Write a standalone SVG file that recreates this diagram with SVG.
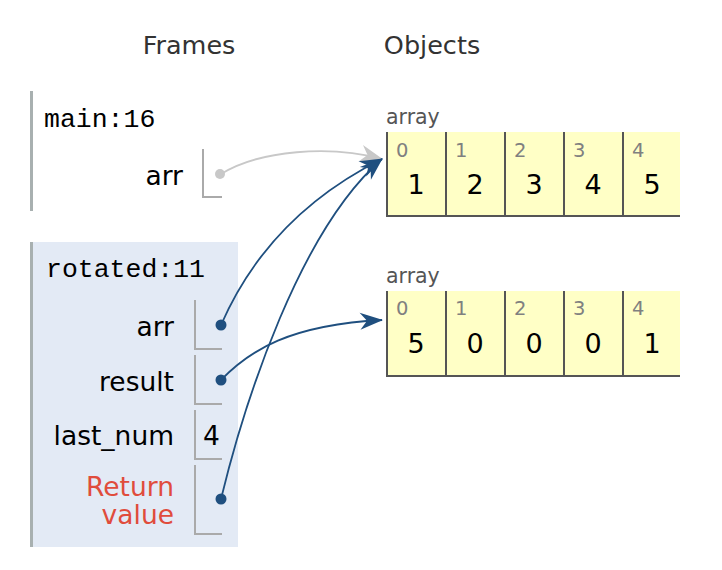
<svg xmlns="http://www.w3.org/2000/svg" width="722" height="570" viewBox="0 0 722 570">
<style>
.hdr{font-family:"DejaVu Sans",Verdana,sans-serif;font-size:25.5px;fill:#333;text-anchor:middle}
.fname{font-family:"Liberation Mono","DejaVu Sans Mono",monospace;font-size:26.5px;fill:#000}
.var{font-family:"DejaVu Sans",Verdana,sans-serif;font-size:26.5px;fill:#000;text-anchor:end}
.ret{fill:#e04c3c}
.val{font-family:"DejaVu Sans",Verdana,sans-serif;font-size:26.5px;fill:#000}
.fborder{stroke:#a8b0b0;stroke-width:3}
.box{fill:none;stroke:#aaa;stroke-width:2}
.albl{font-family:"DejaVu Sans",Verdana,sans-serif;font-size:20.5px;fill:#555}
.cell{fill:#ffffc6}
.cline{stroke:#555;stroke-width:2;fill:none}
.idx{font-family:"DejaVu Sans",Verdana,sans-serif;font-size:19.5px;fill:#808080}
.cv{font-family:"DejaVu Sans",Verdana,sans-serif;font-size:27px;fill:#000;text-anchor:middle}
.blue{stroke:#1f4f7f;stroke-width:1.8;fill:none}
.gray{stroke:#c8c8c8;stroke-width:1.8;fill:none}
</style>
<defs>
<marker id="ab" markerUnits="userSpaceOnUse" markerWidth="30" markerHeight="30" refX="0" refY="0" viewBox="-25 -15 30 30" orient="auto"><path d="M1,0 L-22,-8.5 L-15,0 L-22,8.5 Z" fill="#1f4f7f"/></marker>
<marker id="ag" markerUnits="userSpaceOnUse" markerWidth="30" markerHeight="30" refX="0" refY="0" viewBox="-25 -15 30 30" orient="auto"><path d="M1,0 L-22,-8.5 L-15,0 L-22,8.5 Z" fill="#c8c8c8"/></marker>
</defs>
<rect width="722" height="570" fill="#fff"/>
<text class="hdr" x="189" y="54">Frames</text>
<text class="hdr" x="432" y="54">Objects</text>

<g id="frame-main">
<line class="fborder" x1="31.5" y1="91" x2="31.5" y2="211"/>
<text class="fname" x="44" y="127">main:16</text>
<text class="var" x="183" y="185">arr</text>
<polyline class="box" points="203,149 203,197 222,197"/>
<circle cx="220" cy="174" r="5" fill="#c8c8c8"/>
</g>

<g id="frame-rotated">
<rect x="31" y="242" width="207" height="305" fill="#e3eaf5"/>
<line class="fborder" x1="31.5" y1="242" x2="31.5" y2="547"/>
<text class="fname" x="46" y="277">rotated:11</text>
<text class="var" x="174" y="336">arr</text>
<polyline class="box" points="195,300 195,349 222,349"/>
<circle cx="221" cy="325" r="5.5" fill="#1f4f7f"/>
<text class="var" x="174" y="391">result</text>
<polyline class="box" points="195,355 195,404 222,404"/>
<circle cx="221" cy="380" r="5.5" fill="#1f4f7f"/>
<text class="var" x="174" y="445">last_num</text>
<polyline class="box" points="195,410 195,459 222,459"/>
<text class="val" x="203" y="445">4</text>
<text class="var ret" x="174" y="496">Return</text>
<text class="var ret" x="174" y="524">value</text>
<polyline class="box" points="195,465 195,534 222,534"/>
<circle cx="221" cy="499" r="5.5" fill="#1f4f7f"/>
</g>

<g id="array1">
<text class="albl" x="386" y="124">array</text>
<rect class="cell" x="386" y="132" width="294" height="84"/>
<path class="cline" d="M387,132 V217 M446,132 V217 M505,132 V217 M564,132 V217 M623,132 V217 M386,216 H680"/>
<text class="idx" x="396" y="157">0</text>
<text class="idx" x="455" y="157">1</text>
<text class="idx" x="514" y="157">2</text>
<text class="idx" x="573" y="157">3</text>
<text class="idx" x="632" y="157">4</text>
<text class="cv" x="416" y="194">1</text>
<text class="cv" x="475" y="194">2</text>
<text class="cv" x="534" y="194">3</text>
<text class="cv" x="593" y="194">4</text>
<text class="cv" x="652" y="194">5</text>
</g>

<g id="array2">
<text class="albl" x="386" y="283">array</text>
<rect class="cell" x="386" y="291" width="294" height="85"/>
<path class="cline" d="M387,291 V377 M446,291 V377 M505,291 V377 M564,291 V377 M623,291 V377 M386,376 H680"/>
<text class="idx" x="396" y="315">0</text>
<text class="idx" x="455" y="315">1</text>
<text class="idx" x="514" y="315">2</text>
<text class="idx" x="573" y="315">3</text>
<text class="idx" x="632" y="315">4</text>
<text class="cv" x="416" y="353">5</text>
<text class="cv" x="475" y="353">0</text>
<text class="cv" x="534" y="353">0</text>
<text class="cv" x="593" y="353">0</text>
<text class="cv" x="652" y="353">1</text>
</g>

<g id="connectors">
<path class="gray" d="M221,174 C260,150 330,145 382,159" marker-end="url(#ag)"/>
<path class="blue" d="M221,325 C245,270 290,205 382,159" marker-end="url(#ab)"/>
<path class="blue" d="M221,380 C250,350 290,325 382,320" marker-end="url(#ab)"/>
<path class="blue" d="M221,499 C245,400 300,230 382,159" marker-end="url(#ab)"/>
</g>
</svg>
